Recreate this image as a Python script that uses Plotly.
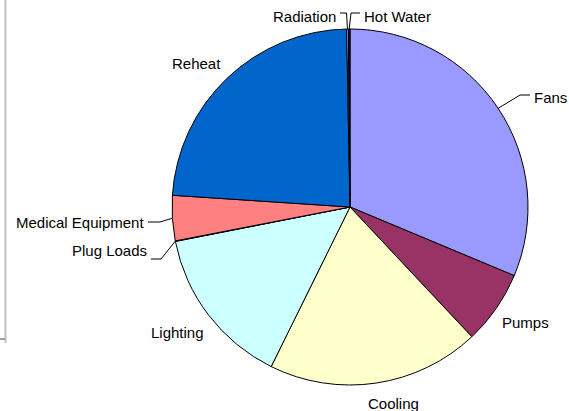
import math
import plotly.graph_objects as go

# share of energy use by end use (%)
labels = ["Fans", "Pumps", "Cooling", "Lighting", "Plug Loads",
          "Medical Equipment", "Reheat", "Radiation", "Hot Water"]
values = [31.3, 6.7, 19.3, 14.6, 0.05, 4.1, 23.65, 0.15, 0.15]
colors = ["#9999FF", "#993366", "#FFFFCC", "#CCFFFF", "#660066",
          "#FF8080", "#0066CC", "#CCCCFF", "#000080"]

# pie geometry in pixels
W, H = 569, 411
CX, CY, R = 350, 207, 178
ML, MT = CX - R, CY - R


def to_paper(x, y):
    return (x - ML) / (2 * R), (MT + 2 * R - y) / (2 * R)


# labels that Excel moved away and joined with a leader line:
# text x, text y, anchor side, knee x, knee y  (pixels)
leader_labels = {
    "Fans": (532, 98, "left", 520, 95),
    "Medical Equipment": (146, 222, "right", 160, 222),
    "Plug Loads": (149, 250, "right", 161, 259),
    "Radiation": (338, 16, "right", 346.5, 13),
    "Hot Water": (362, 16, "left", 351, 13),
}
# label nudges (pixels) for the plain outside labels
nudge = {"Cooling": (16, 0), "Lighting": (5, 1), "Reheat": (3, 3), "Pumps": (-4, -2)}
label_font = dict(family="Liberation Sans, Arial, sans-serif", size=15, color="black")

fig = go.Figure(go.Pie(
    labels=labels,
    values=values,
    sort=False,
    direction="clockwise",
    rotation=0,
    textinfo="none",
    marker=dict(colors=colors, line=dict(color="black", width=1)),
    showlegend=False,
))

total = sum(values)
acc = 0
annotations = []
shapes = []
for lab, v in zip(labels, values):
    a = math.radians(360 * (acc + v / 2) / total)
    acc += v
    s, c = math.sin(a), math.cos(a)
    ex, ey = CX + R * s, CY - R * c
    if lab in leader_labels:
        tx, ty, side, kx, ky = leader_labels[lab]
        px_, py_ = to_paper(tx, ty)
        annotations.append(dict(x=px_, y=py_, xref="paper", yref="paper", text=lab,
                                showarrow=False, xanchor=side, yanchor="middle",
                                font=label_font))
        sx = tx + 2 if side == "right" else tx - 2
        p0 = to_paper(sx, ky)
        p1 = to_paper(kx, ky)
        p2 = to_paper(ex, ey)
        shapes.append(dict(type="path", xref="paper", yref="paper",
                           path=f"M {p0[0]},{p0[1]} L {p1[0]},{p1[1]} L {p2[0]},{p2[1]}",
                           line=dict(color="black", width=1)))
    else:
        gap = 10
        dx, dy = nudge.get(lab, (0, 0))
        lx, ly = CX + (R + gap) * s + dx, CY - (R + gap) * c + dy
        xa = "left" if s > 0.2 else ("right" if s < -0.2 else "center")
        ya = "bottom" if c > 0.2 else ("top" if c < -0.2 else "middle")
        px_, py_ = to_paper(lx, ly)
        annotations.append(dict(x=px_, y=py_, xref="paper", yref="paper", text=lab,
                                showarrow=False, xanchor=xa, yanchor=ya,
                                font=label_font))

# edge of the neighbouring chart frame on the left
g0 = to_paper(5.5, 0)
g1 = to_paper(5.5, 343)
shapes.append(dict(type="line", xref="paper", yref="paper", x0=g0[0], y0=g0[1],
                   x1=g1[0], y1=g1[1], line=dict(color="#C0C0C0", width=2)))
b0 = to_paper(0, 339)
b1 = to_paper(5, 339)
shapes.append(dict(type="line", xref="paper", yref="paper", x0=b0[0], y0=b0[1],
                   x1=b1[0], y1=b1[1], line=dict(color="#404040", width=1)))

fig.update_layout(
    width=W, height=H,
    margin=dict(l=ML, r=W - CX - R, t=MT, b=H - CY - R, pad=0),
    paper_bgcolor="white",
    plot_bgcolor="white",
    annotations=annotations,
    shapes=shapes,
)

# drop the browser's default 8px page margin so the chart sits at the corner
fig.write_html("out.html", config={"displayModeBar": False},
               post_script="document.body.style.margin='0';")
